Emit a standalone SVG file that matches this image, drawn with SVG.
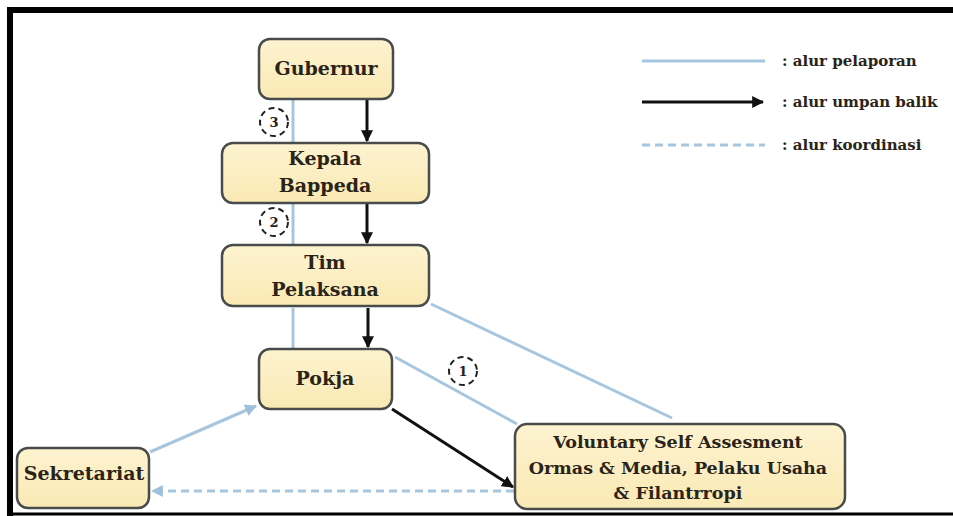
<svg xmlns="http://www.w3.org/2000/svg" width="953" height="516" viewBox="0 0 953 516">
<defs>
<linearGradient id="boxfill" x1="0" y1="0" x2="0" y2="1">
<stop offset="0" stop-color="#fdf3d0"/>
<stop offset="1" stop-color="#fae9b4"/>
</linearGradient>
<marker id="blk" viewBox="0 0 10 10" refX="9" refY="5" markerWidth="4" markerHeight="4" orient="auto" markerUnits="strokeWidth">
<path d="M0,0 L10,5 L0,10 z" fill="#111"/>
</marker>
<marker id="blu" viewBox="0 0 10 10" refX="9" refY="5" markerWidth="4" markerHeight="4" orient="auto" markerUnits="strokeWidth">
<path d="M0,0 L10,5 L0,10 z" fill="#9fc0dc"/>
</marker>
</defs>
<style>
.box{fill:url(#boxfill);stroke:#474c4a;stroke-width:2.5}
.t{font-family:"DejaVu Serif","Liberation Serif",serif;font-weight:bold;font-size:19px;fill:#2a2418;text-anchor:middle}
.tv{font-size:17.5px}
.lg{font-family:"DejaVu Serif","Liberation Serif",serif;font-weight:bold;font-size:15px;fill:#2a2418}
.rep{stroke:#a6c6df;stroke-width:3;fill:none}
.fb{stroke:#111;stroke-width:3;fill:none}
.co{stroke:#a6c6df;stroke-width:3;fill:none;stroke-dasharray:8 5}
.num{fill:none;stroke:#222;stroke-width:2;stroke-dasharray:6 4}
.nt{font-family:"DejaVu Serif","Liberation Serif",serif;font-weight:bold;font-size:13px;fill:#222;text-anchor:middle}
</style>
<rect x="0" y="0" width="953" height="516" fill="#ffffff"/>
<path d="M10,516 V10 H960" fill="none" stroke="#000" stroke-width="6"/>
<line x1="10" y1="514" x2="953" y2="514" stroke="#000" stroke-width="3"/>

<g id="connectors">
<line class="rep" x1="293" y1="143" x2="293" y2="100"/>
<line class="fb" x1="367" y1="100" x2="367" y2="141" marker-end="url(#blk)"/>
<line class="rep" x1="293" y1="245" x2="293" y2="204"/>
<line class="fb" x1="367" y1="204" x2="367" y2="243" marker-end="url(#blk)"/>
<line class="rep" x1="293" y1="349" x2="293" y2="308"/>
<line class="fb" x1="368" y1="308" x2="368" y2="347" marker-end="url(#blk)"/>
<line class="rep" x1="672" y1="418" x2="431" y2="304"/>
<line class="rep" x1="517" y1="424" x2="395" y2="357"/>
<line class="fb" x1="392" y1="409" x2="513" y2="487" marker-end="url(#blk)"/>
<line class="rep" x1="150" y1="452" x2="256" y2="406" marker-end="url(#blu)"/>
<line class="co" x1="514" y1="491" x2="152" y2="491" marker-end="url(#blu)"/>
</g>

<g id="step3"><circle class="num" cx="274" cy="122" r="14"/><text class="nt" x="274" y="127">3</text></g>
<g id="step2"><circle class="num" cx="274" cy="222" r="14"/><text class="nt" x="274" y="227">2</text></g>
<g id="step1"><circle class="num" cx="463" cy="371" r="14"/><text class="nt" x="463" y="376">1</text></g>

<g id="gubernur"><rect class="box" x="259" y="39" width="134" height="60" rx="11"/><text class="t" x="326" y="75">Gubernur</text></g>
<g id="kepala-bappeda"><rect class="box" x="222" y="143" width="207" height="60" rx="11"/><text class="t" x="325" y="165">Kepala</text><text class="t" x="325" y="192">Bappeda</text></g>
<g id="tim-pelaksana"><rect class="box" x="222" y="245" width="207" height="61" rx="11"/><text class="t" x="325" y="269">Tim</text><text class="t" x="325" y="296">Pelaksana</text></g>
<g id="pokja"><rect class="box" x="259" y="349" width="133" height="60" rx="11"/><text class="t" x="325" y="385">Pokja</text></g>
<g id="sekretariat"><rect class="box" x="17" y="448" width="132" height="60" rx="11"/><text class="t" x="84" y="480" font-size="19.5">Sekretariat</text></g>
<g id="voluntary"><rect class="box" x="515" y="424" width="330" height="85" rx="12"/><text class="t tv" x="678" y="448">Voluntary Self Assesment</text><text class="t tv" x="678" y="474">Ormas &amp; Media, Pelaku Usaha</text><text class="t tv" x="678" y="499">&amp; Filantrropi</text></g>

<g id="legend">
<line class="rep" x1="642" y1="61" x2="765" y2="61"/>
<text class="lg" x="782" y="66">: alur pelaporan</text>
<line class="fb" x1="642" y1="102" x2="763" y2="102" marker-end="url(#blk)"/>
<text class="lg" x="782" y="107">: alur umpan balik</text>
<line class="co" x1="642" y1="145" x2="765" y2="145"/>
<text class="lg" x="782" y="150">: alur koordinasi</text>
</g>
</svg>
